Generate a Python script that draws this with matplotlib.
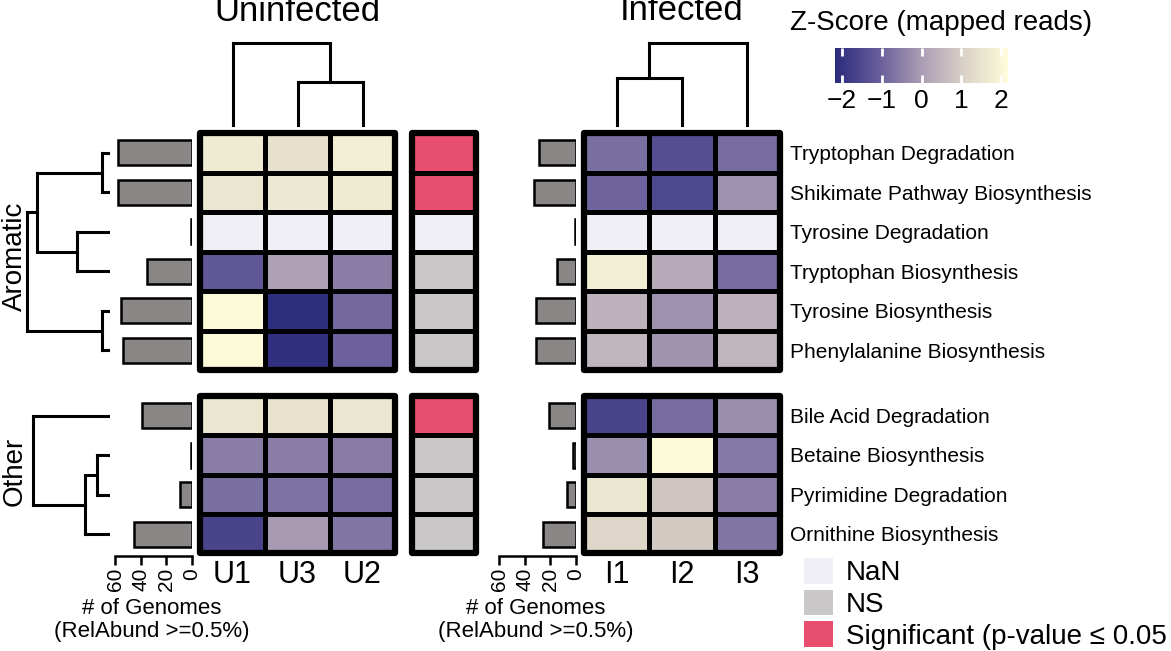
import numpy as np
import matplotlib
matplotlib.use("Agg")
import matplotlib.pyplot as plt
from matplotlib.colors import LinearSegmentedColormap, ListedColormap, Normalize
from matplotlib.patches import Rectangle, Patch
from matplotlib.cm import ScalarMappable

plt.rcParams['font.family'] = ['Liberation Sans', 'DejaVu Sans']

# ---------------- data ----------------
nan = np.nan
aromatic_rows = ["Tryptophan Degradation", "Shikimate Pathway Biosynthesis", "Tyrosine Degradation",
                 "Tryptophan Biosynthesis", "Tyrosine Biosynthesis", "Phenylalanine Biosynthesis"]
other_rows = ["Bile Acid Degradation", "Betaine Biosynthesis", "Pyrimidine Degradation",
              "Ornithine Biosynthesis"]
uninfected_cols = ["U1", "U3", "U2"]
infected_cols = ["I1", "I2", "I3"]

z_uninf_aromatic = [[1.7, 1.45, 1.8],
                    [1.6, 1.65, 1.7],
                    [nan, nan, nan],
                    [-1.2, 0.1, -0.5],
                    [2.1, -2.1, -0.85],
                    [2.1, -2.05, -1.0]]
z_uninf_other = [[1.6, 1.5, 1.6],
                 [-0.5, -0.5, -0.55],
                 [-0.75, -0.7, -0.8],
                 [-1.6, -0.05, -0.65]]
z_inf_aromatic = [[-0.75, -1.4, -0.8],
                  [-0.95, -1.5, -0.2],
                  [nan, nan, nan],
                  [1.8, 0.3, -0.8],
                  [0.45, -0.2, 0.45],
                  [0.5, -0.15, 0.5]]
z_inf_other = [[-1.6, -0.8, -0.25],
               [-0.25, 2.1, -0.6],
               [1.6, 0.8, -0.5],
               [1.2, 0.9, -0.65]]

significance_aromatic = ["Sig", "Sig", "NaN", "NS", "NS", "NS"]
significance_other = ["Sig", "NS", "NS", "NS"]

genomes_uninf_aromatic = [58, 58, 1, 35, 55, 54]
genomes_uninf_other = [39, 1, 9, 45]
genomes_inf_aromatic = [29, 33, 1, 15, 31, 31]
genomes_inf_other = [21, 2, 7, 26]

genome_ticks = [0, 20, 40, 60]
cbar_ticks = [-2, -1, 0, 1, 2]

# dendrogram merges: (child_a, child_b, height); children >= n are earlier clusters
row_merges_aromatic = [(0, 1, 6), (2, 3, 31), (4, 5, 6), (6, 7, 71), (9, 8, 81)]
row_merges_other = [(1, 2, 11), (4, 3, 23), (0, 5, 75)]
col_merges_uninf = [(1, 2, 1.05), (0, 3, 2.0)]
col_merges_inf = [(0, 1, 1.15), (3, 2, 2.0)]

# ---------------- style ----------------
nan_color = "#f1eff6"
ns_color = "#c9c7c7"
sig_color = "#e84f6f"
bar_color = "#8a8686"
vmin, vmax = -2.17, 2.17
cmap = LinearSegmentedColormap.from_list(
    "zs", [(0.0, "#2b2b7d"), (0.27, "#6c619c"), (0.5, "#aa9db4"),
           (0.73, "#d7cfc6"), (1.0, "#fffcda")])
cmap.set_bad(nan_color)
norm = Normalize(vmin, vmax)
sig_cmap = ListedColormap([nan_color, ns_color, sig_color])
sig_codes = {"NaN": 0, "NS": 1, "Sig": 2}

W, H = 1171, 651
fig = plt.figure(figsize=(W / 100, H / 100), dpi=100)


def px_axes(left, top, right, bottom):
    return fig.add_axes([left / W, 1 - bottom / H, (right - left) / W, (bottom - top) / H])


def box(ax):
    for s in ax.spines.values():
        s.set_visible(False)
    ax.add_patch(Rectangle((0, 0), 1, 1, transform=ax.transAxes, fill=False, lw=4.5,
                           ec="black", clip_on=False, joinstyle="round", zorder=5))


def draw_heat(ax, data, cm, nm):
    arr = np.ma.masked_invalid(np.array(data, float))
    ax.imshow(arr, cmap=cm, norm=nm, aspect="auto", interpolation="nearest")
    nr, nc = arr.shape
    ax.hlines(np.arange(1, nr) - 0.5, -0.5, nc - 0.5, color="black", lw=3.6)
    if nc > 1:
        ax.vlines(np.arange(1, nc) - 0.5, -0.5, nr - 0.5, color="black", lw=3.6)
    ax.set_xlim(-0.5, nc - 0.5)
    ax.set_ylim(nr - 0.5, -0.5)
    ax.set_xticks([])
    ax.set_yticks([])
    box(ax)


def dendro_segments(n, positions, merges):
    pos = list(positions)
    hts = [0.0] * n
    segs = []
    for a, b, h in merges:
        segs.append(((hts[a], pos[a]), (h, pos[a])))
        segs.append(((h, pos[a]), (h, pos[b])))
        segs.append(((h, pos[b]), (hts[b], pos[b])))
        pos.append((pos[a] + pos[b]) / 2)
        hts.append(h)
    return segs


# ---------------- layout (pixels) ----------------
TOP1, BOT1 = 133, 370
TOP2, BOT2 = 396, 553
U_L, U_R = 200, 395
S_L, S_R = 412, 476
I_L, I_R = 584, 780

n_top, n_bot = len(aromatic_rows), len(other_rows)
unit = (BOT1 - TOP1) / n_top
gap = (TOP2 - BOT1) / unit
row_pos_top = np.arange(n_top) + 0.5
row_pos_bot = n_top + gap + np.arange(n_bot) + 0.5
ylim_rows = (n_top + gap + n_bot + 0.05, 0)
rows_bottom_px = TOP1 + ylim_rows[0] * unit

# heatmaps
for (l, r, dA, dB) in [(U_L, U_R, z_uninf_aromatic, z_uninf_other),
                       (I_L, I_R, z_inf_aromatic, z_inf_other)]:
    a1 = px_axes(l, TOP1, r, BOT1)
    draw_heat(a1, dA, cmap, norm)
    a2 = px_axes(l, TOP2, r, BOT2)
    draw_heat(a2, dB, cmap, norm)
    if l == I_L:
        a1.set_yticks(range(n_top), aromatic_rows)
        a2.set_yticks(range(n_bot), other_rows)
        for a in (a1, a2):
            a.tick_params(axis="y", left=False, right=False, labelleft=False,
                          labelright=True, pad=4, labelsize=15)
        a2.set_xticks(range(3), infected_cols)
    else:
        a2.set_xticks(range(3), uninfected_cols)
    a2.tick_params(axis="x", length=0, pad=5, labelsize=22)

# significance column
s1 = px_axes(S_L, TOP1, S_R, BOT1)
draw_heat(s1, [[sig_codes[s]] for s in significance_aromatic], sig_cmap, Normalize(-0.5, 2.5))
s2 = px_axes(S_L, TOP2, S_R, BOT2)
draw_heat(s2, [[sig_codes[s]] for s in significance_other], sig_cmap, Normalize(-0.5, 2.5))

# genome bars
bar_scale = 77 / 60.0
for (zero_px, vals_top, vals_bot) in [(192, genomes_uninf_aromatic, genomes_uninf_other),
                                      (576, genomes_inf_aromatic, genomes_inf_other)]:
    width_px = 86
    bx = px_axes(zero_px - width_px, TOP1, zero_px, rows_bottom_px)
    bx.barh(np.concatenate([row_pos_top, row_pos_bot]), vals_top + vals_bot, height=0.64,
            color=bar_color, edgecolor="black", lw=1.8)
    bx.set_xlim(width_px / bar_scale, 0)
    bx.set_ylim(*ylim_rows)
    for side in ("left", "right", "top"):
        bx.spines[side].set_visible(False)
    bx.spines["bottom"].set_bounds(0, 60)
    bx.spines["bottom"].set_linewidth(1.8)
    bx.set_yticks([])
    bx.set_xticks(genome_ticks, [str(t) for t in genome_ticks], rotation=90)
    bx.tick_params(axis="x", length=6.5, width=1.8, pad=2, labelsize=15)
    bx.patch.set_alpha(0)
    cx = (zero_px - 60 * bar_scale / 2) - 2
    fig.text(cx / W, 1 - 598 / H, "# of Genomes\n(RelAbund >=0.5%)", ha="center", va="top",
             fontsize=16, linespacing=1.15, multialignment="center")

# row dendrogram
rd = px_axes(27, TOP1, 108, rows_bottom_px)
segs = dendro_segments(n_top, row_pos_top, row_merges_aromatic) + \
    dendro_segments(n_bot, row_pos_bot, row_merges_other)
for (x0, y0), (x1, y1) in segs:
    rd.plot([x0, x1], [y0, y1], color="black", lw=2.2, solid_capstyle="projecting", clip_on=False)
rd.set_xlim(81, 0)
rd.set_ylim(*ylim_rows)
rd.axis("off")
rd.text(-12 / 81, (row_pos_top[0] + row_pos_top[-1]) / 2 + 0.12, "Aromatic",
        transform=rd.get_yaxis_transform(), rotation=90, ha="center", va="center", fontsize=20)
rd.text(-12 / 81, (row_pos_bot[0] + row_pos_bot[-1]) / 2 - 0.1, "Other",
        transform=rd.get_yaxis_transform(), rotation=90, ha="center", va="center", fontsize=20)

# column dendrograms
for (l, r, merges) in [(U_L, U_R, col_merges_uninf), (I_L, I_R, col_merges_inf)]:
    cd = px_axes(l, 43, r, 125)
    for (h0, x0), (h1, x1) in dendro_segments(3, np.arange(3), merges):
        cd.plot([x0, x1], [h0, h1], color="black", lw=2.2, solid_capstyle="projecting", clip_on=False)
    cd.set_xlim(-0.5, 2.5)
    cd.set_ylim(0, 2)
    cd.axis("off")

# titles
fig.text((U_L + U_R) / 2 / W, 1 - 21 / H, "Uninfected", ha="center", va="baseline", fontsize=25)
fig.text((I_L + I_R) / 2 / W, 1 - 20 / H, "Infected", ha="center", va="baseline", fontsize=25)

# colorbar
cax = px_axes(835, 48, 1008, 83)
cb = fig.colorbar(ScalarMappable(norm=norm, cmap=cmap), cax=cax, orientation="horizontal",
                  ticks=cbar_ticks)
cb.outline.set_visible(False)
cax.tick_params(axis="x", direction="in", color="white", length=6, width=2,
                top=True, bottom=True, labelsize=19, pad=4)
fig.text(790 / W, 1 - 30 / H, "Z-Score (mapped reads)", ha="left", va="baseline", fontsize=20)

# legend
handles = [Patch(fc=nan_color, ec="none", label="NaN"),
           Patch(fc=ns_color, ec="none", label="NS"),
           Patch(fc=sig_color, ec="none", label="Significant (p-value \u2264 0.05")]
fig.legend(handles=handles, loc="upper left", bbox_to_anchor=(804 / W, 1 - 558 / H),
           frameon=False, fontsize=20, handlelength=1.05, handleheight=1.05,
           handletextpad=0.45, labelspacing=0.12, borderaxespad=0, borderpad=0)

fig.savefig("out.png", dpi=100)
